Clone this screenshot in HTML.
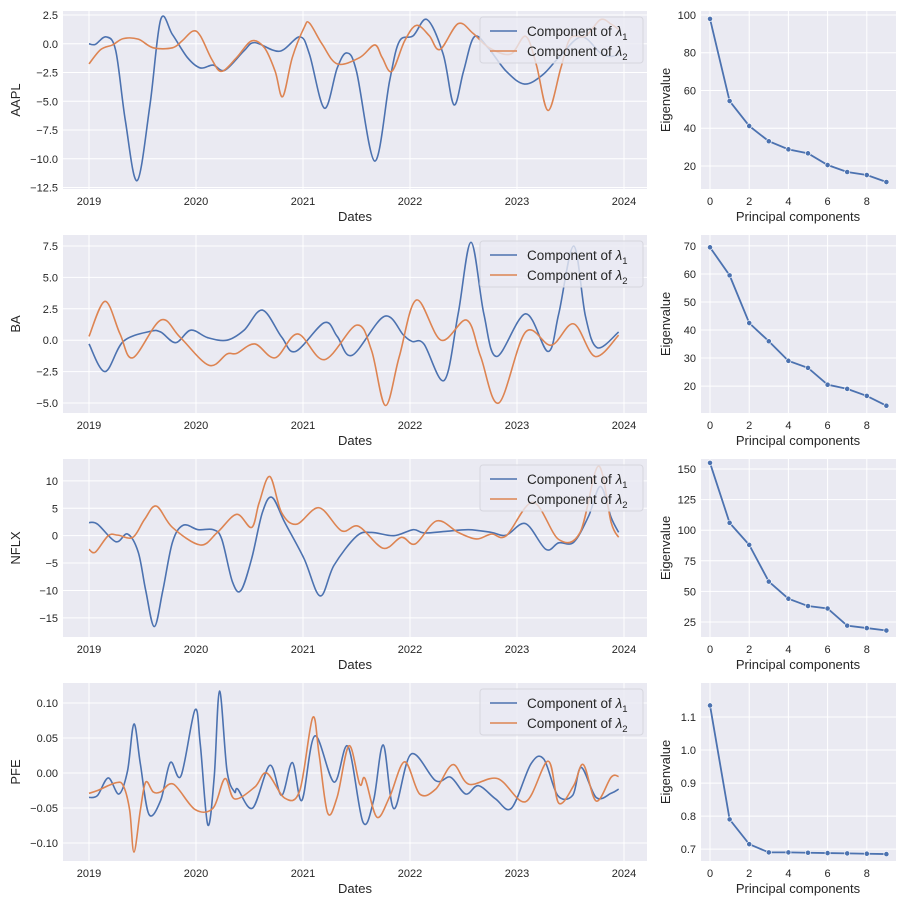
<!DOCTYPE html>
<html><head><meta charset="utf-8">
<style>
html,body{margin:0;padding:0;background:#fff;}
svg{display:block;font-family:"Liberation Sans","DejaVu Sans",sans-serif;}
</style></head>
<body>
<svg id="fig" width="900" height="897" viewBox="0 0 900 897" xmlns="http://www.w3.org/2000/svg"></svg>
<script>
const tickers = ["AAPL","BA","NFLX","PFE"];
const yearTicks = ["2019","2020","2021","2022","2023","2024"];
const pcTicks = [0,2,4,6,8];
const pcIndex = [0,1,2,3,4,5,6,7,8,9];

const aaplBlueT = [0,.06,.16,.25,.34,.45,.57,.67,.78,.92,1.04,1.16,1.27,1.45,1.55,1.78,1.97,2.06,2.2,2.32,2.41,2.5,2.67,2.81,2.9,3.03,3.16,3.31,3.41,3.5,3.6,3.73,3.9,4.07,4.24,4.39,4.6,4.78,4.88,4.95];
const aaplBlueV = [0,-.05,.6,-.6,-6.7,-11.9,-5.3,2.1,.8,-1.2,-2.1,-1.85,-2.3,-.6,.1,-.65,.6,-.9,-5.6,-2.1,-.8,-2.4,-10.2,-3.2,.2,.7,2.1,-.9,-5.3,-2.4,.6,-.35,-2.4,-3.5,-2.7,-1.2,.6,-.8,-1.1,-.9];
const aaplOrangeT = [0,.11,.22,.32,.46,.6,.78,.87,.97,1.04,1.15,1.24,1.38,1.52,1.64,1.74,1.81,1.9,2.01,2.06,2.18,2.32,2.53,2.67,2.74,2.83,2.95,3.06,3.18,3.28,3.45,3.59,3.74,3.94,4.08,4.18,4.29,4.41,4.5,4.64,4.78,4.88,4.95];
const aaplOrangeV = [-1.75,-.5,-.1,.45,.4,-.35,-.35,.25,1.1,.7,-1.4,-2.4,-1.2,.25,-.35,-2.4,-4.6,-1.2,1.4,1.8,-.05,-1.75,-1.2,-.1,-1.2,-2.4,.25,1.6,.7,-.5,1.75,.9,-.35,-.9,.65,-1.8,-5.8,-2.1,.5,.65,2.1,1.7,1.25];

const baBlueT = [0,.15,.32,.57,.67,.81,.95,1.11,1.29,1.45,1.62,1.8,1.93,2.2,2.32,2.46,2.76,2.94,3.02,3.13,3.32,3.45,3.57,3.69,3.81,4.08,4.29,4.39,4.53,4.64,4.75,4.95];
const baBlueV = [-.3,-2.5,-.1,.7,.65,-.2,.8,.2,0,.8,2.4,.25,-.9,1.4,.3,-1.2,1.9,.4,-.1,-.3,-3.2,2.1,7.8,2.1,-1.3,2.1,-.9,2.1,7.5,1.9,-.6,.65];
const baOrangeT = [0,.15,.29,.41,.67,.85,1.12,1.29,1.38,1.55,1.74,1.95,2.2,2.5,2.64,2.77,2.9,3.06,3.29,3.53,3.66,3.83,4.08,4.32,4.53,4.73,4.95];
const baOrangeV = [.3,3.1,.5,-1.4,1.6,.25,-2,-1.1,-1.05,-.3,-1.4,.5,-1.55,1.2,-.8,-5.2,-1.3,3.2,0,1.6,-1.3,-5,.65,-.4,1.3,-1.3,.4];

const nflxBlueT = [0,.08,.25,.36,.46,.53,.61,.69,.78,.88,1.02,1.16,1.24,1.34,1.42,1.52,1.62,1.71,1.83,2.01,2.16,2.29,2.5,2.64,2.85,3.03,3.13,3.34,3.55,3.76,3.9,4.08,4.27,4.39,4.53,4.67,4.78,4.88,4.95];
const nflxBlueV = [2.4,2.1,-1.1,.3,-3,-10,-16.6,-10,-1.2,1.9,1.1,1.1,-.6,-8.4,-10,-4.2,4.2,7,2.4,-4.2,-11,-5.4,-.1,.6,0,1.1,.5,.8,1.1,.6,.1,2.2,-2.5,-1.3,-1.2,3.6,9,3.3,.6];
const nflxOrangeT = [0,.06,.18,.27,.41,.52,.63,.78,1.04,1.2,1.38,1.52,1.59,1.69,1.8,1.94,2.15,2.36,2.52,2.75,2.92,3.05,3.25,3.45,3.62,3.76,3.9,4.15,4.39,4.59,4.76,4.88,4.95];
const nflxOrangeV = [-2.5,-3,0,.1,-.3,3,5.4,1.5,-1.7,.6,3.9,1.5,6,10.8,4.2,2.1,5.1,.9,1.7,-2.3,-.3,-1.5,2.7,.6,-.6,.3,0,6.1,-.7,.6,12.7,2.4,-.3];

const pfeBlueT = [0,.08,.18,.28,.36,.42,.48,.56,.67,.76,.86,.99,1.04,1.11,1.17,1.22,1.29,1.36,1.39,1.53,1.69,1.8,1.9,1.99,2.11,2.29,2.42,2.56,2.66,2.75,2.85,3.01,3.24,3.38,3.52,3.64,3.8,3.95,4.13,4.25,4.38,4.52,4.6,4.74,4.88,4.95];
const pfeBlueV = [-.035,-.032,-.007,-.03,.003,.07,.013,-.059,-.039,.015,-.004,.09,.041,-.074,-.006,.117,.003,-.027,-.023,-.05,.011,-.032,.015,-.039,.053,-.013,.038,-.07,-.039,.04,-.051,.027,-.011,-.006,-.03,-.018,-.037,-.05,.013,.02,-.032,-.032,.008,-.035,-.029,-.023];
const pfeOrangeT = [0,.08,.25,.32,.38,.42,.48,.53,.6,.67,.79,.99,1.16,1.27,1.36,1.55,1.66,1.83,1.97,2.09,2.15,2.23,2.32,2.43,2.53,2.58,2.69,2.81,2.95,3.09,3.24,3.4,3.55,3.82,4.08,4.29,4.39,4.53,4.62,4.74,4.88,4.95];
const pfeOrangeV = [-.029,-.025,-.014,-.018,-.053,-.113,-.053,-.013,-.027,-.027,-.016,-.052,-.05,-.008,-.037,-.02,0,-.036,-.025,.079,.027,-.057,-.034,.039,-.016,-.008,-.063,-.034,.016,-.03,-.023,.012,-.016,-.008,-.041,.017,-.043,-.018,.012,-.04,-.006,-.005];

const aaplEigen = [97.9,54.4,41.2,33.1,28.8,26.7,20.5,16.8,15.2,11.5];
const baEigen = [69.5,59.5,42.5,36,29,26.5,20.5,19,16.5,13];
const nflxEigen = [155,106,88,58,44,38,36,22,20,18];
const pfeEigen = [1.135,0.79,0.715,0.69,0.69,0.689,0.688,0.687,0.686,0.685];

const aaplYTicks = ["2.5","0.0","−2.5","−5.0","−7.5","−10.0","−12.5"];
const aaplYVals = [2.5,0,-2.5,-5,-7.5,-10,-12.5];
const baYTicks = ["7.5","5.0","2.5","0.0","−2.5","−5.0"];
const baYVals = [7.5,5,2.5,0,-2.5,-5];
const nflxYTicks = ["10","5","0","−5","−10","−15"];
const nflxYVals = [10,5,0,-5,-10,-15];
const pfeYTicks = ["0.10","0.05","0.00","−0.05","−0.10"];
const pfeYVals = [0.10,0.05,0,-0.05,-0.10];
const aaplEYTicks = [20,40,60,80,100];
const baEYTicks = [20,30,40,50,60,70];
const nflxEYTicks = [25,50,75,100,125,150];
const pfeEYTicks = ["0.7","0.8","0.9","1.0","1.1"];

const NS="http://www.w3.org/2000/svg";
const svg=document.getElementById('fig');
function mk(tag,attrs,parent){const e=document.createElementNS(NS,tag);for(const k in attrs)e.setAttribute(k,attrs[k]);(parent||svg).appendChild(e);return e;}

const rows=[
 {name:"AAPL",bT:aaplBlueT,bV:aaplBlueV,oT:aaplOrangeT,oV:aaplOrangeV,yl:aaplYTicks,yv:aaplYVals,dom:[2.85,-12.63],eig:aaplEigen,ey:aaplEYTicks,edom:[102.1,7.8]},
 {name:"BA",bT:baBlueT,bV:baBlueV,oT:baOrangeT,oV:baOrangeV,yl:baYTicks,yv:baYVals,dom:[8.38,-5.8],eig:baEigen,ey:baEYTicks,edom:[73.9,10.4]},
 {name:"NFLX",bT:nflxBlueT,bV:nflxBlueV,oT:nflxOrangeT,oV:nflxOrangeV,yl:nflxYTicks,yv:nflxYVals,dom:[14.0,-18.5],eig:nflxEigen,ey:nflxEYTicks,edom:[158.2,12.7]},
 {name:"PFE",bT:pfeBlueT,bV:pfeBlueV,oT:pfeOrangeT,oV:pfeOrangeV,yl:pfeYTicks,yv:pfeYVals,dom:[0.1286,-0.1257],eig:pfeEigen,ey:pfeEYTicks,edom:[1.203,0.664]}
];
const LX0=63,LX1=647,RX0=701,RX1=896,PH=178;
function xL(t){return LX0+(t-(-0.243))/(5.215+0.243)*(LX1-LX0);}
function xR(i){return RX0+(i-(-0.46))/(9.49+0.46)*(RX1-RX0);}

function smooth(pts){
 let d="M"+pts[0][0].toFixed(2)+","+pts[0][1].toFixed(2);
 for(let i=0;i<pts.length-1;i++){
  const p0=pts[Math.max(0,i-1)],p1=pts[i],p2=pts[i+1],p3=pts[Math.min(pts.length-1,i+2)];
  const c1x=p1[0]+(p2[0]-p0[0])/6,c1y=p1[1]+(p2[1]-p0[1])/6;
  const c2x=p2[0]-(p3[0]-p1[0])/6,c2y=p2[1]-(p3[1]-p1[1])/6;
  d+=" C"+c1x.toFixed(2)+","+c1y.toFixed(2)+" "+c2x.toFixed(2)+","+c2y.toFixed(2)+" "+p2[0].toFixed(2)+","+p2[1].toFixed(2);
 }
 return d;
}

rows.forEach((r,ri)=>{
 const top=11+224*ri, bot=top+PH;
 const yL=v=>top+(r.dom[0]-v)/(r.dom[0]-r.dom[1])*PH;
 const yR=v=>top+(r.edom[0]-v)/(r.edom[0]-r.edom[1])*PH;
 const key=r.name.toLowerCase();
 const g=mk('g',{});
 
 
 const bg=mk('rect',{x:LX0,y:top,width:LX1-LX0,height:PH,fill:'#EAEAF2'},g);
 
 
 r.yv.forEach((v,i)=>{
  const y=yL(v);
  const gl=mk('line',{x1:LX0,x2:LX1,y1:y,y2:y,stroke:'#fff','stroke-width':1},g);
  
  
  const tl=mk('text',{x:LX0-5,y:y+4,'text-anchor':'end','font-size':11,fill:'#262626'},g);
  
  
  tl.textContent=r.yl[i];
 });
 yearTicks.forEach((lab,i)=>{
  const x=xL(i);
  const gl=mk('line',{x1:x,x2:x,y1:top,y2:bot,stroke:'#fff','stroke-width':1},g);
  
  
  const tl=mk('text',{x:x,y:bot+16,'text-anchor':'middle','font-size':11,fill:'#262626'},g);
  
  
  tl.textContent=lab;
 });
 const pb=mk('path',{d:smooth(r.bT.map((t,i)=>[xL(t),yL(r.bV[i])])),fill:'none',stroke:'#4C72B0','stroke-width':1.6},g);
 
 
 const po=mk('path',{d:smooth(r.oT.map((t,i)=>[xL(t),yL(r.oV[i])])),fill:'none',stroke:'#DD8452','stroke-width':1.6},g);
 
 
 const xt=mk('text',{x:355,y:bot+32,'text-anchor':'middle','font-size':13,fill:'#262626'},g);
 
 
 xt.textContent='Dates';
 const yt=mk('text',{x:0,y:0,'text-anchor':'middle','font-size':13,fill:'#262626',transform:'translate(20,'+(top+PH/2)+') rotate(-90)'},g);
 
 
 yt.textContent=r.name;
 const lg=mk('g',{},g);
 
 
 mk('rect',{x:480,y:top+6,width:163,height:46,rx:3,fill:'#EAEAF2','fill-opacity':0.8,stroke:'#D6D6DE','stroke-width':1},lg);
 [['#4C72B0','1',top+20],['#DD8452','2',top+40]].forEach(([c,n,y])=>{
  const le=mk('g',{},lg);
  
  
  mk('line',{x1:490,x2:517,y1:y,y2:y,stroke:c,'stroke-width':1.6},le);
  const tx=mk('text',{x:527,y:y+5,'font-size':13.5,fill:'#262626'},le);
  tx.innerHTML='Component of <tspan font-style="italic">λ</tspan><tspan font-size="9.5" dy="4">'+n+'</tspan>';
 });
 const h=mk('g',{});
 
 
 const bg2=mk('rect',{x:RX0,y:top,width:RX1-RX0,height:PH,fill:'#EAEAF2'},h);
 
 
 r.ey.forEach(lab=>{
  const y=yR(Number(lab));
  const gl=mk('line',{x1:RX0,x2:RX1,y1:y,y2:y,stroke:'#fff','stroke-width':1},h);
  
  
  const tl=mk('text',{x:RX0-5,y:y+4,'text-anchor':'end','font-size':11,fill:'#262626'},h);
  
  
  tl.textContent=String(lab);
 });
 pcTicks.forEach(v=>{
  const x=xR(v);
  const gl=mk('line',{x1:x,x2:x,y1:top,y2:bot,stroke:'#fff','stroke-width':1},h);
  
  
  const tl=mk('text',{x:x,y:bot+16,'text-anchor':'middle','font-size':11,fill:'#262626'},h);
  
  
  tl.textContent=String(v);
 });
 const pts=pcIndex.map((i)=>[xR(i),yR(r.eig[i])]);
 const el=mk('polyline',{points:pts.map(p=>p[0].toFixed(2)+','+p[1].toFixed(2)).join(' '),fill:'none',stroke:'#4C72B0','stroke-width':1.8},h);
 
 
 pts.forEach(p=>{
  const c=mk('circle',{cx:p[0],cy:p[1],r:2.6,fill:'#4C72B0',stroke:'#fff','stroke-width':0.6},h);
  
  
 });
 const xt2=mk('text',{x:798,y:bot+32,'text-anchor':'middle','font-size':13,fill:'#262626'},h);
 
 
 xt2.textContent='Principal components';
 const yt2=mk('text',{x:0,y:0,'text-anchor':'middle','font-size':13,fill:'#262626',transform:'translate(670,'+(top+PH/2)+') rotate(-90)'},h);
 
 
 yt2.textContent='Eigenvalue';
});
</script>
</body></html>
